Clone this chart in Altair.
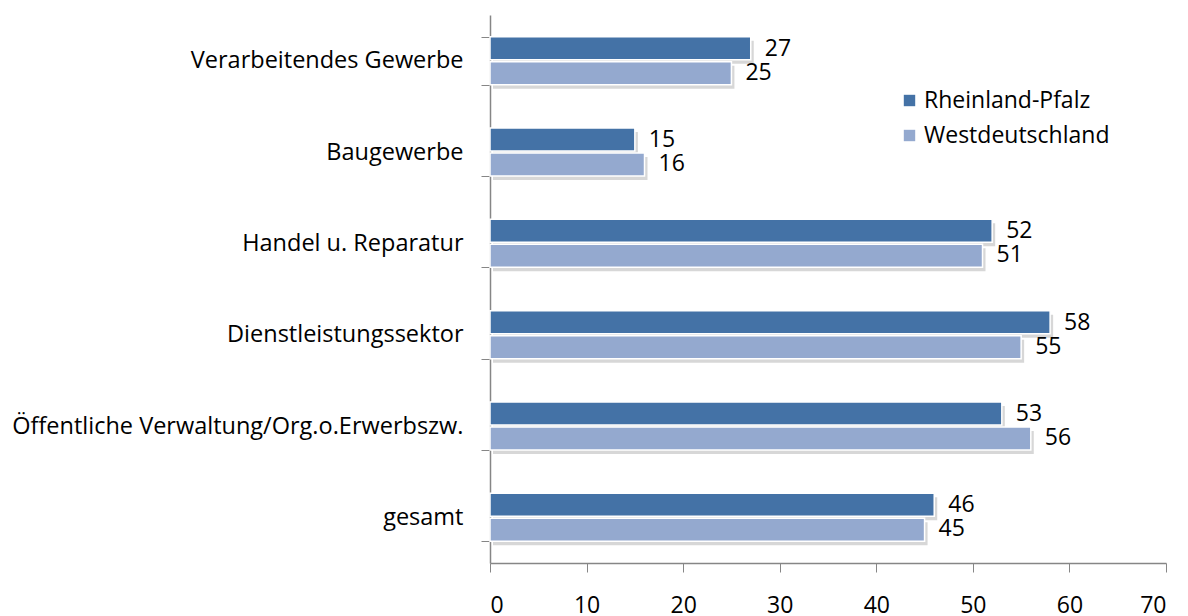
import altair as alt
import pandas as pd

categories = [
    "Verarbeitendes Gewerbe",
    "Baugewerbe",
    "Handel u. Reparatur",
    "Dienstleistungssektor",
    "Öffentliche Verwaltung/Org.o.Erwerbszw.",
    "gesamt",
]
series = ["Rheinland-Pfalz", "Westdeutschland"]
rheinland_pfalz = [27, 15, 52, 58, 53, 46]
westdeutschland = [25, 16, 51, 55, 56, 45]
colors = ["#4472A6", "#94A9CF"]
x_ticks = [0, 10, 20, 30, 40, 50, 60, 70]

rows = []
for cat, a, b in zip(categories, rheinland_pfalz, westdeutschland):
    rows.append({"Bereich": cat, "Region": series[0], "Wert": a})
    rows.append({"Bereich": cat, "Region": series[1], "Wert": b})
df = pd.DataFrame(rows)

FONT = "Open Sans"
FS = 23
AXIS_COLOR = "#868686"
PLOT_W, PLOT_H = 676, 548
PAD_INNER = 0.474
BAND = PLOT_H / len(categories) * (1 - PAD_INNER)

y_enc = alt.Y(
    "Bereich:N",
    sort=categories,
    scale=alt.Scale(paddingInner=PAD_INNER, paddingOuter=PAD_INNER / 2),
    axis=alt.Axis(
        title=None,
        tickBand="extent",
        tickSize=9,
        tickColor=AXIS_COLOR,
        domainColor=AXIS_COLOR,
        domainWidth=1.5,
        labelFontSize=23.5,
        labelFont=FONT,
        labelColor="#000000",
        labelPadding=18,
        labelLimit=500,
    ),
)
x_enc = alt.X(
    "Wert:Q",
    scale=alt.Scale(domain=[0, 70], nice=False),
    axis=alt.Axis(
        title=None,
        values=x_ticks,
        grid=False,
        tickSize=9,
        tickColor=AXIS_COLOR,
        domainColor=AXIS_COLOR,
        domainWidth=1.5,
        labelFontSize=FS,
        labelFont=FONT,
        labelColor="#000000",
        labelPadding=22,
    ),
)
yoff = alt.YOffset("Region:N", sort=series, scale=alt.Scale(paddingInner=0.08))
# drop shadow: same bars pushed a few pixels down and right
yoff_shadow = alt.YOffset(
    "Region:N", sort=series, scale=alt.Scale(paddingInner=0.08, range=[4, BAND + 4])
)

base = alt.Chart(df)

shadow = base.mark_bar(color="#8c8c8c", opacity=0.35, xOffset=3).encode(
    x=x_enc, y=y_enc, yOffset=yoff_shadow
)

bars = base.mark_bar(stroke="white", strokeWidth=1.5).encode(
    x=x_enc,
    y=y_enc,
    yOffset=yoff,
    color=alt.Color(
        "Region:N",
        sort=series,
        scale=alt.Scale(domain=series, range=colors),
        legend=alt.Legend(
            title=None,
            orient="none",
            legendX=408,
            legendY=74,
            symbolType="square",
            symbolSize=130,
            symbolStrokeWidth=0,
            labelFontSize=FS,
            labelFont=FONT,
            labelColor="#000000",
            labelLimit=300,
            rowPadding=11,
            labelOffset=3,
        ),
    ),
)

labels = base.mark_text(
    align="left", baseline="middle", dx=14, fontSize=FS, font=FONT, color="#000000"
).encode(x="Wert:Q", y=alt.Y("Bereich:N", sort=categories), yOffset=yoff, text="Wert:Q")

chart = (
    alt.layer(shadow, bars, labels)
    .resolve_scale(yOffset="independent")
    .properties(
        width=PLOT_W,
        height=PLOT_H,
        autosize=alt.AutoSizeParams(type="none"),
        padding={"left": 490, "top": 15, "right": 22, "bottom": 53},
        background="white",
    )
    .configure_view(stroke=None)
)

chart.save("out.html", embed_options={"renderer": "svg", "actions": False})
